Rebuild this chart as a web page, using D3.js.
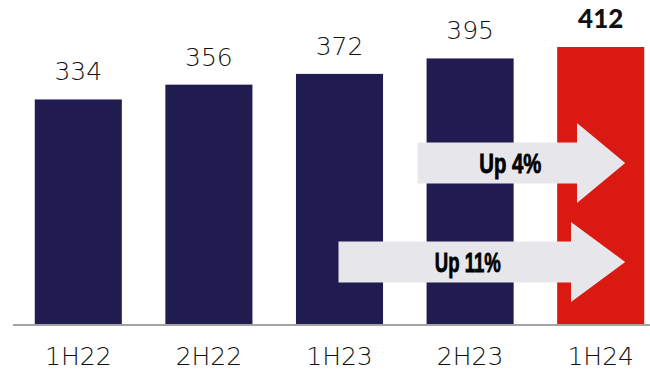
<!DOCTYPE html>
<html>
<head>
<meta charset="utf-8">
<script src="https://cdn.jsdelivr.net/npm/d3@7"></script>
<style>
  body { margin: 0; background: #fff; }
  svg { display: block; }
</style>
</head>
<body>
<script>
'use strict';

// chart data
const periods = ["1H22", "2H22", "1H23", "2H23", "1H24"];
const values = [334, 356, 372, 395, 412];
const highlight = "1H24"; // latest period in red

// growth arrows: from period -> to period
const arrowFrom = ["2H23", "1H23"];
const arrowTo = ["1H24", "1H24"];
const arrowLabels = ["Up 4%", "Up 11%"];

const width = 650, height = 376;
const navy = "#211c4f", red = "#da1913", arrowFill = "#e7e6eb";
const thinFont = "'DejaVu Sans', Lato, sans-serif";

const svg = d3.select("body").append("svg")
  .attr("width", width)
  .attr("height", height);

// x scale for the bars
const x = d3.scaleBand()
  .domain(periods)
  .range([13, 666])
  .paddingInner(1 / 3)
  .paddingOuter(1 / 6);

// y scale from zero
const y = d3.scaleLinear()
  .domain([0, 412])
  .range([324, 47]);

const data = periods.map((p, i) => ({ period: p, value: values[i] }));

// bars
svg.selectAll(".bar")
  .data(data)
  .enter()
  .append("rect")
    .attr("class", "bar")
    .attr("x", d => x(d.period))
    .attr("y", d => y(d.value))
    .attr("width", x.bandwidth())
    .attr("height", d => y(0) - y(d.value))
    .attr("fill", d => d.period === highlight ? red : navy);

// value labels above bars
svg.selectAll(".val")
  .data(data)
  .enter()
  .append("text")
    .attr("class", "val")
    .attr("x", d => x(d.period) + x.bandwidth() / 2)
    .attr("y", d => y(d.value) - 19)
    .attr("text-anchor", "middle")
    .style("font-family", d => d.period === highlight ? "Lato, sans-serif" : thinFont)
    .style("font-size", d => d.period === highlight ? "26px" : "25px")
    .style("font-weight", d => d.period === highlight ? 900 : 200)
    .style("fill", "#111")
    .text(d => d.value);

// baseline
svg.append("line")
  .attr("x1", 13)
  .attr("x2", width)
  .attr("y1", y(0) + 1)
  .attr("y2", y(0) + 1)
  .attr("stroke", "#a3a3a3")
  .attr("stroke-width", 2);

// category labels
const xAxis = d3.axisBottom(x).tickSize(0).tickPadding(23);
const gx = svg.append("g")
  .attr("transform", `translate(0,${y(0)})`)
  .call(xAxis);
gx.select(".domain").remove();
gx.selectAll("text")
  .style("font-family", thinFont)
  .style("font-size", "25px")
  .style("font-weight", 200)
  .style("fill", "#111");

// growth arrows
const arrowRows = [163, 262]; // vertical centres of the arrows
const bodyLeft = [x(arrowFrom[0]) - 9, x(arrowFrom[1]) + x.bandwidth() / 2 - 1];
const headStart = [577, 571];
const labelWidth = [62, 66];

arrowLabels.forEach((label, i) => {
  const cy = arrowRows[i];
  const x0 = bodyLeft[i];
  const hx = headStart[i];
  const tip = x(arrowTo[i]) + x.bandwidth() / 2 + 24.5;
  const bh = 20.5, hh = 40;
  const pts = [
    [x0, cy - bh], [hx, cy - bh], [hx, cy - hh], [tip, cy],
    [hx, cy + hh], [hx, cy + bh], [x0, cy + bh]
  ];
  svg.append("path")
    .attr("d", d3.line()(pts) + "Z")
    .attr("fill", arrowFill);

  // condensed heavy label, squeezed to the width seen in the picture
  svg.append("text")
    .attr("x", (x0 + hx) / 2 + 13 - labelWidth[i] / 2)
    .attr("y", cy + 10)
    .attr("textLength", labelWidth[i])
    .attr("lengthAdjust", "spacingAndGlyphs")
    .style("font-family", "'Liberation Sans', Arial, sans-serif")
    .style("font-size", "28px")
    .style("font-weight", 700)
    .style("fill", "#000")
    .style("stroke", "#000")
    .style("stroke-width", 0.8)
    .text(label);
});
</script>
</body>
</html>
